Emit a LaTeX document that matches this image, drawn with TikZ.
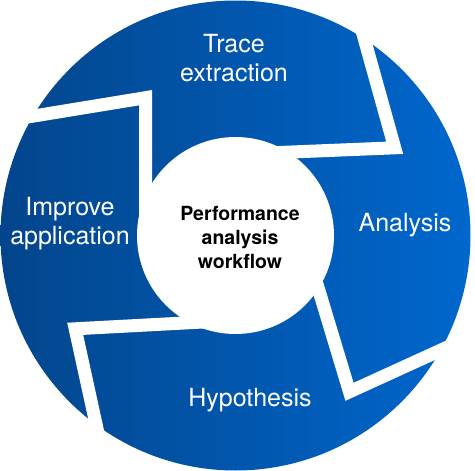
\documentclass[tikz,border=0pt]{standalone}
\usepackage{fontspec}
\setmainfont{TeX Gyre Heros}
\usepackage{tikz}

\definecolor{ringdark}{RGB}{3,69,140}
\definecolor{ringlight}{RGB}{0,103,205}

\tikzset{
  gap/.style={white,line width=13pt,miter limit=10},
  steplabel/.style={text=white,align=center,inner sep=0pt,font=\fontsize{25}{29.5}\selectfont},
  hub/.style={text=black,align=center,inner sep=0pt,font=\bfseries\fontsize{19.5}{24}\selectfont}
}

\begin{document}
\begin{tikzpicture}[x=1pt,y=-1pt]
      \useasboundingbox (0,0) rectangle (475,471);
      \coordinate (c) at (235.5,235.5);

      \shade[left color=ringdark,right color=ringlight] (c) circle (235pt);
      \fill[white] (c) circle (98.5pt);

      \draw[gap] (-10,123.2) -- (145.5,97.7) -- (145.5,240);
      \draw[gap] (350.7,-10) -- (394.7,147.8) -- (250,153.7);
      \draw[gap] (306.7,250) -- (349.5,391.8) -- (490,327.7);
      \draw[gap] (250,319.5) -- (75.2,328.8) -- (110.4,490);

      \node[steplabel] (trace) at (234,58) {Trace\\extraction};
      \node[steplabel,anchor=base] (analysis) at (405,231.7) {Analysis};
      \node[steplabel,anchor=base] (hypo) at (250,406.7) {Hypothesis};
      \node[steplabel] (improve) at (70,223.5) {Improve\\application};
      \node[hub] (title) at (240,237) {Performance\\analysis\\workflow};
    \end{tikzpicture}
\end{document}
